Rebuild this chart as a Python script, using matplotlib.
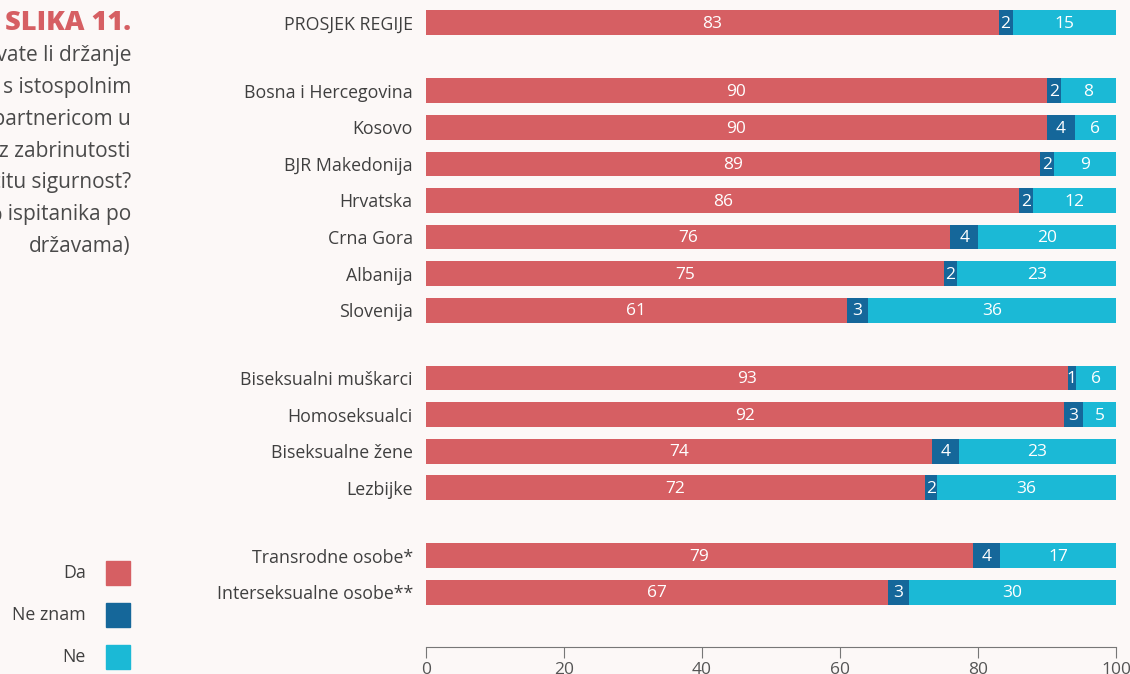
import matplotlib
matplotlib.use("Agg")
import matplotlib.pyplot as plt
from matplotlib.patches import Rectangle

plt.rcParams['font.family'] = ['Open Sans', 'DejaVu Sans']

# podaci
categories = ["PROSJEK REGIJE",
              "Bosna i Hercegovina", "Kosovo", "BJR Makedonija", "Hrvatska",
              "Crna Gora", "Albanija", "Slovenija",
              "Biseksualni muškarci", "Homoseksualci", "Biseksualne žene", "Lezbijke",
              "Transrodne osobe*", "Interseksualne osobe**"]
groups = [0, 1, 1, 1, 1, 1, 1, 1, 2, 2, 2, 2, 3, 3]
da = [83, 90, 90, 89, 86, 76, 75, 61, 93, 92.5, 73.3, 72.3, 79.3, 67]
ne_znam = [2, 2, 4, 2, 2, 4, 2, 3, 1.2, 2.7, 3.9, 1.8, 3.9, 3]
ne = [15, 8, 6, 9, 12, 20, 23, 36, 5.8, 4.8, 22.8, 25.9, 16.8, 30]
da_labels = [83, 90, 90, 89, 86, 76, 75, 61, 93, 92, 74, 72, 79, 67]
ne_znam_labels = [2, 2, 4, 2, 2, 4, 2, 3, 1, 3, 4, 2, 4, 3]
ne_labels = [15, 8, 6, 9, 12, 20, 23, 36, 6, 5, 23, 36, 17, 30]
legend_names = ["Da", "Ne znam", "Ne"]
xticks = [0, 20, 40, 60, 80, 100]

colors = ["#d65f63", "#15679a", "#1bb9d6"]
bg = "#fcf8f7"
text_c = "#3f3f3f"

W, H = 1130, 674
fig = plt.figure(figsize=(W / 100, H / 100), dpi=100, facecolor=bg)
ax = fig.add_axes([426 / W, 1 - 647 / H, (1116 - 426) / W, (647 - 5) / H])
ax.set_facecolor(bg)

gap = 0.86
ys = [i + groups[i] * gap for i in range(len(categories))]

lefts = [0] * len(categories)
for vals, labs, col in [(da, da_labels, colors[0]),
                        (ne_znam, ne_znam_labels, colors[1]),
                        (ne, ne_labels, colors[2])]:
    ax.barh(ys, vals, left=lefts, height=0.68, color=col)
    for y, l, v, lab in zip(ys, lefts, vals, labs):
        ax.text(l + v / 2, y + 0.03, str(lab), ha="center", va="center",
                color="white", fontsize=12.5)
    lefts = [l + v for l, v in zip(lefts, vals)]

ax.set_xlim(0, 100)
ax.set_ylim(ys[-1] + 1.5, -0.49)
ax.set_yticks(ys)
ax.set_yticklabels(categories, fontsize=12.8, color=text_c)
ax.tick_params(axis="y", length=0, pad=9.5)
ax.set_xticks(xticks)
ax.tick_params(axis="x", length=8, color="#777777", labelsize=12.5,
               labelcolor="#555555", pad=3)
for s in ["top", "right", "left"]:
    ax.spines[s].set_visible(False)
ax.spines["bottom"].set_color("#777777")

# naslov i opis lijevo
fig.text(131 / W, 1 - 23 / H, "SLIKA 11.", ha="right", va="center",
         fontsize=19.5, fontweight=800, color="#d65f63")
desc = ["Izbjegavate li držanje", "za ruke s istospolnim",
        "partnerom/partnericom u", "javnosti iz zabrinutosti",
        "za vlastitu sigurnost?", "(% ispitanika po", "državama)"]
for i, line in enumerate(desc):
    fig.text(131 / W, 1 - (56 + i * 31.7) / H, line, ha="right", va="center",
             fontsize=15, color="#4a4a4a")

# legenda
for i, (name, col) in enumerate(zip(legend_names, colors)):
    yc = 573 + i * 42
    fig.patches.append(Rectangle((106 / W, 1 - (yc + 12) / H), 24 / W, 24 / H,
                                 transform=fig.transFigure, color=col))
    fig.text(86 / W, 1 - yc / H, name, ha="right", va="center",
             fontsize=12.8, color=text_c)

fig.savefig("out.png", dpi=100, facecolor=bg)
